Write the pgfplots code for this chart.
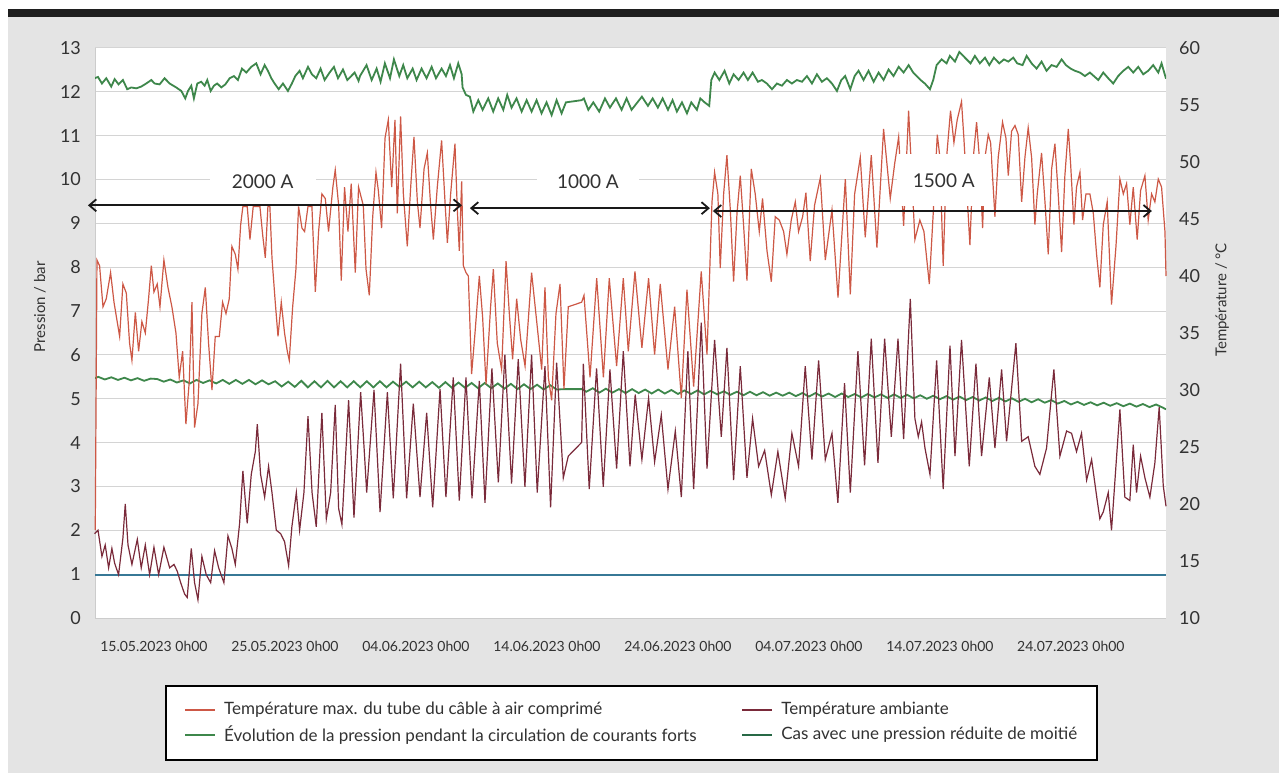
\documentclass[border=0pt]{standalone}
\usepackage{fontspec}
\setmainfont{Lato}
\usepackage{pgfplots}
\pgfplotsset{compat=1.18}
\usetikzlibrary{arrows.meta}
\definecolor{bggray}{RGB}{228,228,228}
\definecolor{cred}{RGB}{205,88,70}
\definecolor{cbrown}{RGB}{122,42,58}
\definecolor{cgreen}{RGB}{62,135,75}
\definecolor{cdgreen}{RGB}{40,105,70}
\definecolor{cblue}{RGB}{55,120,150}
\definecolor{cgrid}{RGB}{212,212,212}
\definecolor{ctext}{RGB}{50,50,50}
\pgfplotsset{
  common/.style={
    at={(47.5pt,-24pt)}, anchor=north west,
    scale only axis, width=535.5pt, height=285pt,
    xmin=-4.5, xmax=77.26,
    major tick length=0pt,
    /pgf/number format/assume math mode=true,
    tick label style={text=ctext},
    legend image code/.code={\draw[##1] (0pt,0pt) -- (15pt,0pt);},
  }
}
\begin{document}
\begin{tikzpicture}
\fill[white] (0pt,0pt) rectangle (640.5pt,-387.5pt);
\fill[bggray] (4pt,-8.5pt) rectangle (639.5pt,-386.5pt);
\fill[black!88] (4pt,-4.5pt) rectangle (639.5pt,-8.5pt);

\begin{axis}[common,
  ymin=0, ymax=13,
  axis background/.style={fill=white},
  ytick={0,1,...,13},
  ymajorgrids, grid style={cgrid, line width=0.5pt},
  xtick={0,10,...,70},
  xticklabels={15.05.2023 0h00,25.05.2023 0h00,04.06.2023 0h00,14.06.2023 0h00,24.06.2023 0h00,04.07.2023 0h00,14.07.2023 0h00,24.07.2023 0h00},
  xticklabel style={font=\fontsize{7}{8}\selectfont, yshift=-8pt},
  yticklabel style={font=\fontsize{9}{10}\selectfont, xshift=-3.5pt},
  axis x line*=bottom, axis y line*=left,
  axis line style={draw=gray!40, line width=0.5pt, -},
  ylabel={Pression / bar},
  ylabel style={at={(axis description cs:-0.0514,0.546)}, anchor=center, font=\fontsize{7.5}{9}\selectfont, text=ctext},
]
% upper pressure
\addplot[cgreen, line width=0.9pt] table {
-4.53 12.31
-4.27 12.34
-3.97 12.19
-3.64 12.31
-3.26 12.12
-3.00 12.29
-2.70 12.17
-2.37 12.27
-2.04 12.06
-1.73 12.10
-1.35 12.08
-0.97 12.12
-0.59 12.19
-0.20 12.27
0.05 12.19
0.43 12.17
0.81 12.31
1.20 12.19
1.70 12.10
2.09 12.02
2.39 11.85
2.60 12.02
2.85 12.14
3.05 11.85
3.31 12.19
3.61 12.23
3.87 12.14
4.07 12.27
4.33 12.02
4.58 12.14
4.83 12.19
5.14 12.10
5.45 12.17
5.78 12.31
6.11 12.36
6.41 12.27
6.72 12.53
7.05 12.44
7.43 12.57
7.81 12.65
8.14 12.40
8.45 12.61
8.70 12.48
8.96 12.31
9.21 12.19
9.52 12.06
9.85 12.19
10.23 12.02
10.53 12.19
10.79 12.36
11.12 12.48
11.37 12.31
11.76 12.57
12.06 12.40
12.39 12.31
12.72 12.53
13.03 12.27
13.41 12.44
13.74 12.57
14.05 12.31
14.43 12.51
14.76 12.27
15.06 12.36
15.32 12.44
15.62 12.25
15.73 12.36
16.23 12.61
16.62 12.27
17.00 12.53
17.30 12.23
17.63 12.65
18.02 12.31
18.32 12.74
18.73 12.36
19.03 12.61
19.34 12.31
19.75 12.53
20.05 12.27
20.43 12.53
20.81 12.31
21.20 12.57
21.53 12.31
21.96 12.53
22.29 12.36
22.60 12.61
22.90 12.31
23.23 12.65
23.41 12.48
23.49 12.40
23.56 12.10
23.82 11.93
24.12 11.89
24.38 11.55
24.76 11.81
25.09 11.59
25.52 11.85
25.90 11.55
26.28 11.85
26.67 11.59
26.97 11.93
27.30 11.64
27.68 11.85
28.07 11.55
28.45 11.81
28.83 11.55
29.21 11.81
29.59 11.51
29.97 11.76
30.36 11.47
30.74 11.81
31.12 11.51
31.45 11.76
32.65 11.81
32.82 11.85
33.16 11.59
33.54 11.76
33.99 11.55
34.43 11.85
34.81 11.64
35.27 11.85
35.70 11.59
36.08 11.85
36.46 11.59
37.25 11.89
37.71 11.68
38.07 11.85
38.47 11.64
38.83 11.85
39.24 11.59
39.59 11.81
39.92 11.55
40.31 11.76
40.69 11.51
41.02 11.76
41.45 11.59
41.71 11.85
42.04 11.76
42.39 11.68
42.55 12.27
42.80 12.44
43.16 12.27
43.56 12.48
43.92 12.19
44.25 12.40
44.63 12.27
45.01 12.44
45.34 12.27
45.70 12.44
46.11 12.23
46.41 12.27
46.79 12.19
47.18 12.06
47.56 12.19
47.94 12.14
48.32 12.27
48.70 12.19
49.08 12.27
49.47 12.23
49.85 12.36
50.23 12.19
50.61 12.40
50.99 12.23
51.37 12.31
51.76 12.19
52.14 12.02
52.47 12.27
52.77 12.36
53.16 12.06
53.49 12.36
53.79 12.48
54.17 12.27
54.55 12.48
54.94 12.23
55.32 12.44
55.70 12.27
56.08 12.51
56.46 12.36
56.85 12.57
57.23 12.44
57.61 12.61
57.96 12.44
58.52 12.27
58.85 12.19
59.24 12.06
59.49 12.27
59.75 12.61
60.13 12.74
60.51 12.65
60.76 12.82
61.15 12.69
61.48 12.91
62.04 12.74
62.34 12.65
62.67 12.82
63.05 12.65
63.44 12.78
63.77 12.61
64.12 12.78
64.53 12.65
64.89 12.74
65.22 12.69
65.60 12.78
65.90 12.65
66.31 12.61
66.62 12.82
67.00 12.65
67.38 12.53
67.76 12.69
68.14 12.48
68.52 12.61
68.91 12.57
69.29 12.74
69.62 12.61
69.98 12.53
70.31 12.48
70.69 12.44
71.07 12.36
71.45 12.44
72.09 12.27
72.47 12.44
72.85 12.31
73.23 12.19
73.61 12.36
74.00 12.48
74.38 12.57
74.76 12.44
75.14 12.57
75.52 12.40
75.90 12.48
76.28 12.61
76.67 12.44
76.92 12.65
77.26 12.30
};
% lower pressure
\addplot[cgreen, line width=0.9pt] table {
-4.50 5.47
-4.25 5.50
-3.75 5.44
-3.25 5.49
-2.75 5.43
-2.25 5.48
-1.75 5.42
-1.25 5.47
-0.75 5.41
-0.25 5.46
0.25 5.45
0.75 5.39
1.25 5.44
1.75 5.37
2.25 5.42
2.75 5.35
3.25 5.43
3.75 5.36
4.25 5.42
4.75 5.35
5.25 5.43
5.75 5.34
6.25 5.43
6.75 5.34
7.25 5.43
7.75 5.33
8.25 5.42
8.75 5.33
9.25 5.40
9.75 5.28
10.25 5.39
10.75 5.27
11.25 5.41
11.75 5.26
12.25 5.40
12.75 5.26
13.25 5.41
13.75 5.26
14.25 5.40
14.75 5.26
15.25 5.40
15.75 5.26
16.25 5.40
16.75 5.26
17.25 5.40
17.75 5.26
18.25 5.39
18.75 5.27
19.25 5.39
19.75 5.26
20.25 5.39
20.75 5.26
21.25 5.38
21.75 5.25
22.25 5.38
22.75 5.25
23.25 5.37
23.75 5.25
24.25 5.36
24.75 5.24
25.25 5.36
25.75 5.24
26.25 5.35
26.75 5.23
27.25 5.34
27.75 5.22
28.25 5.33
28.75 5.22
29.25 5.32
29.75 5.21
30.25 5.31
30.75 5.21
31.30 5.22
32.70 5.22
33.00 5.16
33.50 5.24
34.00 5.14
34.50 5.23
35.00 5.14
35.50 5.22
36.00 5.13
36.50 5.22
37.00 5.13
37.50 5.21
38.00 5.12
38.50 5.21
39.00 5.12
39.50 5.20
40.00 5.11
40.50 5.19
41.00 5.11
41.50 5.19
42.00 5.10
42.50 5.18
43.00 5.10
43.50 5.17
44.00 5.09
44.50 5.16
45.00 5.08
45.50 5.16
46.00 5.08
46.50 5.15
47.00 5.07
47.50 5.14
48.00 5.07
48.50 5.14
49.00 5.06
49.50 5.13
50.00 5.05
50.50 5.13
51.00 5.05
51.50 5.12
52.00 5.04
52.50 5.12
53.00 5.04
53.50 5.11
54.00 5.03
54.50 5.11
55.00 5.03
55.50 5.10
56.00 5.02
56.50 5.10
57.00 5.02
57.50 5.09
58.00 5.01
58.50 5.08
59.00 5.00
59.50 5.07
60.00 4.99
60.50 5.06
61.00 4.98
61.50 5.05
62.00 4.97
62.50 5.04
63.00 4.96
63.50 5.03
64.00 4.95
64.50 5.02
65.00 4.94
65.50 5.01
66.00 4.93
66.50 5.00
67.00 4.92
67.50 4.99
68.00 4.91
68.50 4.97
69.00 4.89
69.50 4.95
70.00 4.87
70.50 4.93
71.00 4.86
71.50 4.92
72.00 4.85
72.50 4.91
73.00 4.84
73.50 4.90
74.00 4.83
74.50 4.89
75.00 4.82
75.50 4.88
76.00 4.81
76.50 4.87
77.00 4.80
77.26 4.76
};
% half pressure case
\addplot[cblue, line width=1.1pt] table {
-4.50 0.98
77.26 0.98
};
\end{axis}

\begin{axis}[common,
  ymin=10, ymax=60,
  ytick={10,15,...,60},
  axis x line=none, axis y line*=right,
  axis line style={draw=none},
  yticklabel style={font=\fontsize{9}{10}\selectfont, xshift=3pt},
  ylabel={Température / °C},
  ylabel style={at={(axis description cs:1.0523,0.558)}, anchor=center, font=\fontsize{7.5}{9}\selectfont, text=ctext},
  clip=false,
  legend columns=2,
  legend cell align=left,
  legend image post style={line width=1.1pt},
  legend style={at={(axis description cs:0.0654,-0.1175)}, anchor=north west,
    draw=black, line width=0.9pt, fill=white,
    inner xsep=9pt, inner ysep=6.5pt, row sep=1pt,
    nodes={inner sep=1.5pt, text=ctext},
    font=\fontsize{8.5}{10}\selectfont,
    /tikz/every odd column/.append style={column sep=2.5pt},
    /tikz/every even column/.append style={column sep=17pt}},
]
\addplot[cred, line width=0.6pt] table {
-4.48 17.7
-4.35 41.4
-4.15 40.9
-3.89 37.3
-3.64 38.0
-3.31 40.3
-3.05 37.7
-2.62 34.7
-2.37 39.3
-2.11 38.5
-1.86 34.1
-1.68 32.6
-1.42 36.8
-1.17 33.4
-0.92 36.0
-0.66 35.0
-0.41 38.0
-0.20 40.9
0.00 38.6
0.25 39.3
0.46 37.3
0.76 41.4
1.07 39.0
1.37 37.3
1.68 35.0
1.93 31.1
2.19 33.4
2.44 27.0
2.70 30.8
2.90 37.7
3.10 26.7
3.36 28.8
3.66 36.7
3.92 39.0
4.17 34.1
4.43 30.0
4.68 34.7
4.99 34.7
5.24 37.7
5.50 36.7
5.75 38.0
5.95 42.6
6.21 41.9
6.41 40.6
6.62 44.5
6.79 46.1
7.12 46.1
7.33 43.2
7.58 46.1
8.09 46.1
8.30 43.6
8.50 41.6
8.70 46.1
8.85 46.1
9.01 41.6
9.26 37.7
9.47 34.7
9.72 37.7
9.97 35.0
10.18 33.4
10.33 32.6
10.59 37.3
10.84 40.6
11.04 46.1
11.30 44.2
11.50 43.9
11.76 46.1
12.06 46.1
12.32 38.6
12.57 43.9
12.82 47.2
13.08 46.8
13.33 43.9
13.66 47.8
13.84 49.3
14.10 46.2
14.30 39.6
14.55 47.8
14.81 43.9
15.06 48.1
15.37 40.3
15.62 47.8
15.98 46.2
16.19 40.6
16.44 38.3
16.70 45.2
16.95 49.1
17.13 47.5
17.38 44.2
17.64 52.1
17.89 53.7
18.15 47.8
18.40 53.7
18.58 45.5
18.83 54.0
19.04 47.2
19.34 42.6
19.60 47.8
19.85 52.2
20.11 46.5
20.31 44.2
20.62 49.4
20.87 50.8
21.12 46.2
21.33 43.2
21.63 47.8
21.96 51.9
22.22 46.5
22.40 42.9
22.65 47.2
22.98 51.6
23.16 45.8
23.31 42.2
23.49 48.3
23.62 40.9
23.82 40.3
24.00 40.0
24.25 31.4
24.51 35.0
24.84 40.0
25.09 36.4
25.35 30.5
25.70 37.3
25.91 40.6
26.21 34.1
26.54 31.8
26.88 41.3
27.13 36.7
27.38 32.7
27.69 38.0
28.00 34.4
28.33 32.1
28.83 40.3
29.22 36.0
29.60 31.8
29.85 39.0
30.11 31.1
30.36 29.1
30.69 36.7
31.00 39.3
31.30 30.1
31.63 37.3
32.65 37.7
32.83 38.3
33.29 31.1
33.80 39.8
34.31 31.1
34.76 39.8
35.32 32.1
35.83 39.8
36.21 33.4
36.72 40.4
37.25 33.7
37.76 39.8
38.22 33.1
38.65 39.3
39.24 31.8
39.75 37.3
40.26 29.3
40.69 38.8
41.20 30.3
41.78 40.4
42.22 33.1
42.60 46.5
42.80 49.1
43.05 47.2
43.23 40.7
43.49 47.2
43.74 50.6
44.00 45.8
44.25 39.5
44.51 45.5
44.76 48.8
45.01 44.5
45.27 39.6
45.60 49.4
45.90 47.2
46.21 43.9
46.46 46.8
46.80 42.2
47.13 39.5
47.43 45.2
47.74 44.9
48.07 43.9
48.32 41.9
48.65 44.9
48.96 46.5
49.21 43.9
49.52 45.2
49.77 47.3
50.10 41.3
50.43 46.2
50.87 48.6
51.25 41.4
51.76 45.8
52.22 38.1
52.78 48.5
53.16 38.4
53.49 47.2
53.92 50.4
54.30 43.4
54.76 50.6
55.19 42.5
55.70 52.9
56.21 46.8
56.54 49.8
56.85 52.2
57.23 44.4
57.61 54.5
58.09 43.2
58.47 44.9
58.78 43.9
59.19 39.3
59.49 45.5
59.80 52.4
60.00 50.4
60.25 40.9
60.51 50.4
60.81 54.5
61.07 51.7
61.32 53.7
61.65 55.3
61.83 52.1
62.29 42.7
62.55 50.4
62.80 53.5
63.05 49.8
63.26 44.2
63.44 50.4
63.69 52.4
63.87 51.7
64.20 45.2
64.45 50.4
64.78 53.5
65.04 52.1
65.22 48.8
65.47 52.7
65.73 53.2
65.98 52.4
66.24 46.5
66.49 50.4
66.74 53.0
67.00 50.4
67.25 44.5
67.43 47.2
67.76 50.8
68.02 46.5
68.27 41.9
68.53 49.4
68.78 51.6
69.03 47.2
69.29 42.1
69.54 48.8
69.80 52.9
69.98 49.8
70.23 44.5
70.43 47.8
70.69 49.1
70.89 44.9
71.15 47.2
71.45 47.2
71.71 45.5
71.96 41.9
72.21 39.0
72.47 44.5
72.77 46.5
73.10 37.5
73.44 42.6
73.74 48.5
74.00 47.2
74.25 48.1
74.50 44.5
74.76 47.8
75.06 43.2
75.32 47.5
75.65 48.8
75.90 44.9
76.16 47.2
76.41 46.5
76.67 48.5
76.92 47.8
77.18 43.9
77.26 40.0
};
\addlegendentry{\makebox[240pt][l]{Température max. du tube du câble à air comprimé}}
\addplot[cbrown, line width=0.6pt] table {
-4.53 17.4
-4.27 17.7
-3.97 15.4
-3.72 16.4
-3.46 14.4
-3.21 16.1
-3.00 14.8
-2.70 13.8
-2.37 17.0
-2.19 20.0
-1.98 16.4
-1.68 14.7
-1.27 16.9
-0.97 14.4
-0.66 16.4
-0.33 13.8
0.00 16.2
0.36 13.8
0.76 16.2
1.20 14.4
1.53 14.7
1.78 14.1
2.04 13.1
2.34 12.1
2.54 11.8
2.85 16.1
3.10 13.1
3.36 11.6
3.66 15.4
3.99 13.8
4.33 13.1
4.63 15.9
4.94 14.4
5.34 13.1
5.65 17.2
5.95 16.1
6.21 14.7
6.54 18.3
6.79 22.9
7.12 18.3
7.43 22.6
7.74 24.6
7.89 27.0
8.14 22.6
8.45 20.6
8.75 23.3
9.01 21.0
9.34 17.7
9.67 17.4
9.97 16.7
10.28 14.6
10.53 18.0
10.87 21.0
11.12 17.7
11.45 21.0
11.76 27.7
12.07 21.0
12.39 18.0
12.82 28.0
13.16 18.7
13.49 21.0
13.84 28.7
14.10 19.6
14.35 18.2
14.86 29.1
15.27 18.8
15.78 29.8
16.08 24.2
16.24 21.0
16.80 30.0
17.26 19.3
17.82 29.8
18.27 20.5
18.83 32.3
19.29 20.5
19.80 28.8
20.31 20.6
20.82 28.0
21.28 19.7
21.84 30.1
22.29 20.6
22.85 31.1
23.31 20.3
23.82 31.1
24.28 20.5
24.84 30.8
25.27 20.1
25.80 31.9
26.29 21.9
26.79 33.1
27.30 21.8
27.81 32.7
28.32 21.5
28.83 33.1
29.26 21.0
29.85 32.1
30.28 19.7
30.74 32.4
31.25 22.3
31.63 24.2
32.65 25.4
32.78 32.3
33.23 21.3
33.79 31.9
34.30 21.5
34.81 31.8
35.32 23.1
35.83 33.4
36.34 23.3
36.74 29.6
37.25 23.9
37.76 29.3
38.22 23.7
38.73 27.8
39.24 21.3
39.80 26.4
40.26 20.6
40.76 33.4
41.20 21.3
41.78 35.9
42.22 23.1
42.80 34.4
43.31 25.9
43.74 33.7
44.25 22.1
44.76 32.1
45.27 22.3
45.70 27.5
46.16 23.3
46.62 24.7
47.13 20.8
47.63 24.6
48.19 20.5
48.70 26.2
49.21 23.3
49.72 32.1
50.23 23.9
50.74 32.6
51.25 23.9
51.76 26.2
52.21 20.1
52.72 30.6
53.16 21.0
53.74 33.4
54.25 23.4
54.76 34.5
55.27 23.6
55.78 34.5
56.29 25.9
56.80 34.5
57.23 25.7
57.74 38.0
58.09 27.5
58.35 25.9
58.60 27.2
58.86 24.9
59.24 22.6
59.75 32.6
60.25 21.3
60.77 33.9
61.15 24.2
61.65 34.4
62.24 23.3
62.75 32.3
63.18 24.2
63.77 31.1
64.20 24.9
64.71 31.8
65.09 25.5
65.80 34.1
66.24 25.5
66.74 25.9
67.25 23.3
67.63 22.6
68.14 24.9
68.70 31.8
69.16 24.2
69.67 26.4
70.05 26.2
70.43 24.6
70.81 26.2
71.20 22.1
71.58 23.9
72.01 20.3
72.21 18.7
72.47 19.3
72.85 21.0
73.10 17.7
73.49 24.2
73.74 28.3
74.12 20.6
74.50 20.3
74.76 25.2
75.01 21.0
75.32 24.2
75.65 22.3
76.03 20.6
76.41 23.6
76.74 28.5
77.05 21.6
77.26 19.8
};
\addlegendentry{\makebox[147.5pt][l]{Température ambiante}}
\addlegendimage{cgreen, line width=1.1pt}
\addlegendentry{\makebox[240pt][l]{Évolution de la pression pendant la circulation de courants forts}}
\addlegendimage{cdgreen, line width=1.1pt}
\addlegendentry{\makebox[147.5pt][l]{Cas avec une pression réduite de moitié}}

% current labels with white boxes
\node[fill=white, minimum width=53pt, minimum height=21pt, inner sep=0pt, text=ctext, font=\fontsize{9.5}{11}\selectfont] at (axis cs:8.3,48.25) {2000 A};
\node[fill=white, minimum width=51pt, minimum height=21pt, inner sep=0pt, text=ctext, font=\fontsize{9.5}{11}\selectfont] at (axis cs:33.13,48.25) {1000 A};
\node[fill=white, minimum width=47pt, minimum height=26pt, inner sep=0pt, text=ctext, font=\fontsize{9.5}{11}\selectfont] at (axis cs:60.3,48.4) {1500 A};
% arrows
\draw[black!90, line width=0.9pt, {Straight Barb[length=3.5pt,width=6pt]}-{Straight Barb[length=3.5pt,width=6pt]}] (axis cs:-5.04,46.2) -- (axis cs:23.51,46.2);
\draw[black!90, line width=0.9pt, {Straight Barb[length=3.5pt,width=6pt]}-{Straight Barb[length=3.5pt,width=6pt]}] (axis cs:24.12,45.95) -- (axis cs:42.44,45.95);
\draw[black!90, line width=0.9pt, {Straight Barb[length=3.5pt,width=6pt]}-{Straight Barb[length=3.5pt,width=6pt]}] (axis cs:42.67,45.7) -- (axis cs:76.18,45.7);
\end{axis}
\end{tikzpicture}
\end{document}
